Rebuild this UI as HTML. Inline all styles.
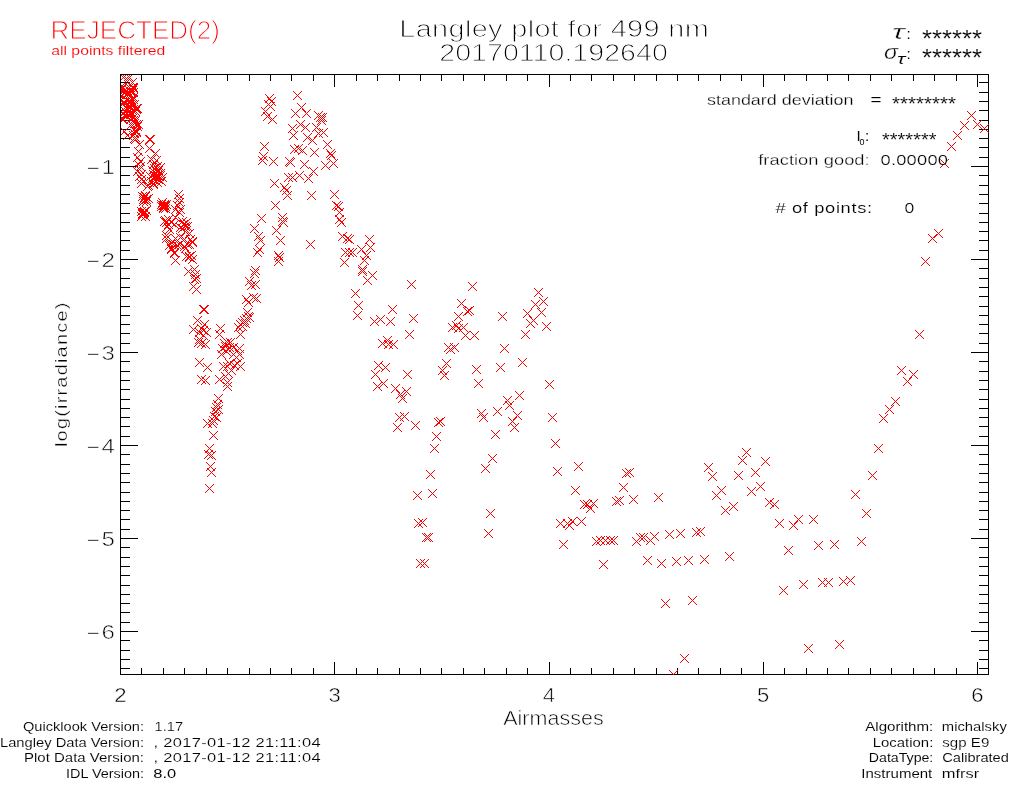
<!DOCTYPE html>
<html><head><meta charset="utf-8"><title>Langley plot for 499 nm</title>
<style>
html,body{margin:0;padding:0;background:#fff;}
body{width:1024px;height:786px;overflow:hidden;}
svg{display:block;}
text{font-family:"Liberation Sans",sans-serif;fill:#000;stroke:#fff;}
.r{fill:#f00;}
.ax{stroke:#000;stroke-width:1;fill:none;shape-rendering:crispEdges;}
.m{stroke:#f00;stroke-width:1;fill:none;shape-rendering:crispEdges;}
</style></head><body>
<svg width="1024" height="786" viewBox="0 0 1024 786">
<rect width="1024" height="786" fill="#fff"/>
<defs><clipPath id="c"><rect x="121" y="75" width="868" height="600"/></clipPath></defs>
<path class="ax" d="M120.5 74.5H988.5V674.5H120.5ZM120.5 674.5v-12.6M120.5 74.5v12M141.5 674.5v-6.6M141.5 74.5v6M163.5 674.5v-6.6M163.5 74.5v6M184.5 674.5v-6.6M184.5 74.5v6M206.5 674.5v-6.6M206.5 74.5v6M227.5 674.5v-6.6M227.5 74.5v6M249.5 674.5v-6.6M249.5 74.5v6M270.5 674.5v-6.6M270.5 74.5v6M291.5 674.5v-6.6M291.5 74.5v6M313.5 674.5v-6.6M313.5 74.5v6M334.5 674.5v-12.6M334.5 74.5v12M356.5 674.5v-6.6M356.5 74.5v6M377.5 674.5v-6.6M377.5 74.5v6M399.5 674.5v-6.6M399.5 74.5v6M420.5 674.5v-6.6M420.5 74.5v6M441.5 674.5v-6.6M441.5 74.5v6M463.5 674.5v-6.6M463.5 74.5v6M484.5 674.5v-6.6M484.5 74.5v6M506.5 674.5v-6.6M506.5 74.5v6M527.5 674.5v-6.6M527.5 74.5v6M549.5 674.5v-12.6M549.5 74.5v12M570.5 674.5v-6.6M570.5 74.5v6M591.5 674.5v-6.6M591.5 74.5v6M613.5 674.5v-6.6M613.5 74.5v6M634.5 674.5v-6.6M634.5 74.5v6M656.5 674.5v-6.6M656.5 74.5v6M677.5 674.5v-6.6M677.5 74.5v6M698.5 674.5v-6.6M698.5 74.5v6M720.5 674.5v-6.6M720.5 74.5v6M741.5 674.5v-6.6M741.5 74.5v6M763.5 674.5v-12.6M763.5 74.5v12M784.5 674.5v-6.6M784.5 74.5v6M806.5 674.5v-6.6M806.5 74.5v6M827.5 674.5v-6.6M827.5 74.5v6M848.5 674.5v-6.6M848.5 74.5v6M870.5 674.5v-6.6M870.5 74.5v6M891.5 674.5v-6.6M891.5 74.5v6M913.5 674.5v-6.6M913.5 74.5v6M934.5 674.5v-6.6M934.5 74.5v6M956.5 674.5v-6.6M956.5 74.5v6M977.5 674.5v-12.6M977.5 74.5v12M120.5 82.5h9M988.5 82.5h-9.6M120.5 92.5h9M988.5 92.5h-9.6M120.5 101.5h9M988.5 101.5h-9.6M120.5 110.5h9M988.5 110.5h-9.6M120.5 120.5h9M988.5 120.5h-9.6M120.5 129.5h9M988.5 129.5h-9.6M120.5 138.5h9M988.5 138.5h-9.6M120.5 147.5h9M988.5 147.5h-9.6M120.5 157.5h9M988.5 157.5h-9.6M120.5 166.5h17M988.5 166.5h-17.6M120.5 175.5h9M988.5 175.5h-9.6M120.5 185.5h9M988.5 185.5h-9.6M120.5 194.5h9M988.5 194.5h-9.6M120.5 203.5h9M988.5 203.5h-9.6M120.5 213.5h9M988.5 213.5h-9.6M120.5 222.5h9M988.5 222.5h-9.6M120.5 231.5h9M988.5 231.5h-9.6M120.5 240.5h9M988.5 240.5h-9.6M120.5 250.5h9M988.5 250.5h-9.6M120.5 259.5h17M988.5 259.5h-17.6M120.5 268.5h9M988.5 268.5h-9.6M120.5 278.5h9M988.5 278.5h-9.6M120.5 287.5h9M988.5 287.5h-9.6M120.5 296.5h9M988.5 296.5h-9.6M120.5 306.5h9M988.5 306.5h-9.6M120.5 315.5h9M988.5 315.5h-9.6M120.5 324.5h9M988.5 324.5h-9.6M120.5 333.5h9M988.5 333.5h-9.6M120.5 343.5h9M988.5 343.5h-9.6M120.5 352.5h17M988.5 352.5h-17.6M120.5 361.5h9M988.5 361.5h-9.6M120.5 371.5h9M988.5 371.5h-9.6M120.5 380.5h9M988.5 380.5h-9.6M120.5 389.5h9M988.5 389.5h-9.6M120.5 399.5h9M988.5 399.5h-9.6M120.5 408.5h9M988.5 408.5h-9.6M120.5 417.5h9M988.5 417.5h-9.6M120.5 426.5h9M988.5 426.5h-9.6M120.5 436.5h9M988.5 436.5h-9.6M120.5 445.5h17M988.5 445.5h-17.6M120.5 454.5h9M988.5 454.5h-9.6M120.5 464.5h9M988.5 464.5h-9.6M120.5 473.5h9M988.5 473.5h-9.6M120.5 482.5h9M988.5 482.5h-9.6M120.5 492.5h9M988.5 492.5h-9.6M120.5 501.5h9M988.5 501.5h-9.6M120.5 510.5h9M988.5 510.5h-9.6M120.5 519.5h9M988.5 519.5h-9.6M120.5 529.5h9M988.5 529.5h-9.6M120.5 538.5h17M988.5 538.5h-17.6M120.5 547.5h9M988.5 547.5h-9.6M120.5 557.5h9M988.5 557.5h-9.6M120.5 566.5h9M988.5 566.5h-9.6M120.5 575.5h9M988.5 575.5h-9.6M120.5 585.5h9M988.5 585.5h-9.6M120.5 594.5h9M988.5 594.5h-9.6M120.5 603.5h9M988.5 603.5h-9.6M120.5 612.5h9M988.5 612.5h-9.6M120.5 622.5h9M988.5 622.5h-9.6M120.5 631.5h17M988.5 631.5h-17.6M120.5 640.5h9M988.5 640.5h-9.6M120.5 650.5h9M988.5 650.5h-9.6M120.5 659.5h9M988.5 659.5h-9.6M120.5 668.5h9M988.5 668.5h-9.6"/>
<g clip-path="url(#c)"><path class="m" d="M145 135l9 9M145 144l9 -9M146 135l9 9M146 144l9 -9M145 144l9 9M145 153l9 -9M131 135l9 9M131 144l9 -9M135 140l9 9M135 149l9 -9M134 147l9 9M134 156l9 -9M136 157l9 9M136 166l9 -9M136 162l9 9M136 171l9 -9M135 165l9 9M135 174l9 -9M137 170l9 9M137 179l9 -9M137 175l9 9M137 184l9 -9M151 149l9 9M151 158l9 -9M147 155l9 9M147 164l9 -9M152 156l9 9M152 165l9 -9M153 162l9 9M153 171l9 -9M156 163l9 9M156 172l9 -9M151 169l9 9M151 178l9 -9M153 171l9 9M153 180l9 -9M156 169l9 9M156 178l9 -9M150 173l9 9M150 182l9 -9M147 177l9 9M147 186l9 -9M143 182l9 9M143 191l9 -9M153 178l9 9M153 187l9 -9M158 173l9 9M158 182l9 -9M149 160l9 9M149 169l9 -9M154 166l9 9M154 175l9 -9M152 174l9 9M152 183l9 -9M148 166l9 9M148 175l9 -9M155 172l9 9M155 181l9 -9M150 164l9 9M150 173l9 -9M146 172l9 9M146 181l9 -9M157 177l9 9M157 186l9 -9M149 180l9 9M149 189l9 -9M133 153l9 9M133 162l9 -9M134 160l9 9M134 169l9 -9M133 167l9 9M133 176l9 -9M135 172l9 9M135 181l9 -9M137 179l9 9M137 188l9 -9M144 181l9 9M144 190l9 -9M149 179l9 9M149 188l9 -9M153 178l9 9M153 187l9 -9M138 192l9 9M138 201l9 -9M141 192l9 9M141 201l9 -9M144 194l9 9M144 203l9 -9M139 197l9 9M139 206l9 -9M142 197l9 9M142 206l9 -9M137 207l9 9M137 216l9 -9M140 208l9 9M140 217l9 -9M139 210l9 9M139 219l9 -9M142 206l9 9M142 215l9 -9M137 212l9 9M137 221l9 -9M141 212l9 9M141 221l9 -9M139 208l9 9M139 217l9 -9M138 210l9 9M138 219l9 -9M158 198l9 9M158 207l9 -9M160 200l9 9M160 209l9 -9M157 202l9 9M157 211l9 -9M161 202l9 9M161 211l9 -9M159 204l9 9M159 213l9 -9M157 200l9 9M157 209l9 -9M159 201l9 9M159 210l9 -9M174 190l9 9M174 199l9 -9M175 194l9 9M175 203l9 -9M175 198l9 9M175 207l9 -9M171 205l9 9M171 214l9 -9M176 205l9 9M176 214l9 -9M173 201l9 9M173 210l9 -9M175 208l9 9M175 217l9 -9M160 217l9 9M160 226l9 -9M164 215l9 9M164 224l9 -9M167 218l9 9M167 227l9 -9M163 222l9 9M163 231l9 -9M165 225l9 9M165 234l9 -9M171 213l9 9M171 222l9 -9M170 220l9 9M170 229l9 -9M178 217l9 9M178 226l9 -9M180 220l9 9M180 229l9 -9M176 223l9 9M176 232l9 -9M183 222l9 9M183 231l9 -9M181 227l9 9M181 236l9 -9M185 229l9 9M185 238l9 -9M162 231l9 9M162 240l9 -9M162 234l9 9M162 243l9 -9M168 237l9 9M168 246l9 -9M166 240l9 9M166 249l9 -9M171 234l9 9M171 243l9 -9M176 233l9 9M176 242l9 -9M180 235l9 9M180 244l9 -9M186 235l9 9M186 244l9 -9M188 237l9 9M188 246l9 -9M183 240l9 9M183 249l9 -9M173 241l9 9M173 250l9 -9M167 245l9 9M167 254l9 -9M170 249l9 9M170 258l9 -9M185 252l9 9M185 261l9 -9M181 244l9 9M181 253l9 -9M171 256l9 9M171 265l9 -9M170 248l9 9M170 257l9 -9M167 244l9 9M167 253l9 -9M165 241l9 9M165 250l9 -9M169 240l9 9M169 249l9 -9M175 240l9 9M175 249l9 -9M180 242l9 9M180 251l9 -9M185 240l9 9M185 249l9 -9M188 238l9 9M188 247l9 -9M182 252l9 9M182 261l9 -9M185 253l9 9M185 262l9 -9M188 255l9 9M188 264l9 -9M187 251l9 9M187 260l9 -9M184 267l9 9M184 276l9 -9M190 265l9 9M190 274l9 -9M191 270l9 9M191 279l9 -9M192 274l9 9M192 283l9 -9M190 275l9 9M190 284l9 -9M189 282l9 9M189 291l9 -9M192 285l9 9M192 294l9 -9M199 305l9 9M199 314l9 -9M200 305l9 9M200 314l9 -9M193 316l9 9M193 325l9 -9M189 325l9 9M189 334l9 -9M200 320l9 9M200 329l9 -9M197 324l9 9M197 333l9 -9M199 326l9 9M199 335l9 -9M195 328l9 9M195 337l9 -9M202 328l9 9M202 337l9 -9M199 331l9 9M199 340l9 -9M194 338l9 9M194 347l9 -9M197 339l9 9M197 348l9 -9M201 340l9 9M201 349l9 -9M195 335l9 9M195 344l9 -9M195 358l9 9M195 367l9 -9M203 363l9 9M203 372l9 -9M216 324l9 9M216 333l9 -9M215 330l9 9M215 339l9 -9M220 339l9 9M220 348l9 -9M223 338l9 9M223 347l9 -9M226 338l9 9M226 347l9 -9M221 342l9 9M221 351l9 -9M225 343l9 9M225 352l9 -9M229 343l9 9M229 352l9 -9M218 344l9 9M218 353l9 -9M217 350l9 9M217 359l9 -9M222 347l9 9M222 356l9 -9M229 350l9 9M229 359l9 -9M233 346l9 9M233 355l9 -9M235 344l9 9M235 353l9 -9M235 350l9 9M235 359l9 -9M232 353l9 9M232 362l9 -9M219 362l9 9M219 371l9 -9M223 362l9 9M223 371l9 -9M227 366l9 9M227 375l9 -9M230 361l9 9M230 370l9 -9M233 359l9 9M233 368l9 -9M236 362l9 9M236 371l9 -9M225 359l9 9M225 368l9 -9M224 369l9 9M224 378l9 -9M234 323l9 9M234 332l9 -9M236 320l9 9M236 329l9 -9M238 318l9 9M238 327l9 -9M240 316l9 9M240 325l9 -9M242 314l9 9M242 323l9 -9M244 312l9 9M244 321l9 -9M236 330l9 9M236 339l9 -9M243 308l9 9M243 317l9 -9M245 313l9 9M245 322l9 -9M238 322l9 9M238 331l9 -9M241 319l9 9M241 328l9 -9M197 375l9 9M197 384l9 -9M201 376l9 9M201 385l9 -9M215 375l9 9M215 384l9 -9M221 372l9 9M221 381l9 -9M223 378l9 9M223 387l9 -9M223 382l9 9M223 391l9 -9M214 394l9 9M214 403l9 -9M213 400l9 9M213 409l9 -9M212 403l9 9M212 412l9 -9M214 405l9 9M214 414l9 -9M211 407l9 9M211 416l9 -9M210 412l9 9M210 421l9 -9M212 413l9 9M212 422l9 -9M209 416l9 9M209 425l9 -9M203 419l9 9M203 428l9 -9M208 419l9 9M208 428l9 -9M209 431l9 9M209 440l9 -9M205 444l9 9M205 453l9 -9M204 450l9 9M204 459l9 -9M207 451l9 9M207 460l9 -9M206 462l9 9M206 471l9 -9M207 468l9 9M207 477l9 -9M205 484l9 9M205 493l9 -9M265 94l9 9M265 103l9 -9M267 97l9 9M267 106l9 -9M264 100l9 9M264 109l9 -9M266 102l9 9M266 111l9 -9M261 107l9 9M261 116l9 -9M263 112l9 9M263 121l9 -9M268 115l9 9M268 124l9 -9M293 91l9 9M293 100l9 -9M297 103l9 9M297 112l9 -9M291 109l9 9M291 118l9 -9M302 109l9 9M302 118l9 -9M314 111l9 9M314 120l9 -9M316 113l9 9M316 122l9 -9M318 113l9 9M318 122l9 -9M317 116l9 9M317 125l9 -9M296 120l9 9M296 129l9 -9M288 124l9 9M288 133l9 -9M301 123l9 9M301 132l9 -9M312 123l9 9M312 132l9 -9M319 128l9 9M319 137l9 -9M314 129l9 9M314 138l9 -9M289 131l9 9M289 140l9 -9M303 133l9 9M303 142l9 -9M308 136l9 9M308 145l9 -9M323 140l9 9M323 149l9 -9M290 145l9 9M290 154l9 -9M294 144l9 9M294 153l9 -9M298 146l9 9M298 155l9 -9M310 148l9 9M310 157l9 -9M326 149l9 9M326 158l9 -9M327 151l9 9M327 160l9 -9M260 142l9 9M260 151l9 -9M259 152l9 9M259 161l9 -9M258 156l9 9M258 165l9 -9M269 157l9 9M269 166l9 -9M285 157l9 9M285 166l9 -9M286 158l9 9M286 167l9 -9M300 160l9 9M300 169l9 -9M321 161l9 9M321 170l9 -9M329 159l9 9M329 168l9 -9M309 167l9 9M309 176l9 -9M304 174l9 9M304 183l9 -9M295 171l9 9M295 180l9 -9M284 173l9 9M284 182l9 -9M288 173l9 9M288 182l9 -9M270 179l9 9M270 188l9 -9M280 183l9 9M280 192l9 -9M282 186l9 9M282 195l9 -9M283 191l9 9M283 200l9 -9M307 191l9 9M307 200l9 -9M330 190l9 9M330 199l9 -9M271 201l9 9M271 210l9 -9M332 201l9 9M332 210l9 -9M334 202l9 9M334 211l9 -9M335 208l9 9M335 217l9 -9M335 215l9 9M335 224l9 -9M337 218l9 9M337 227l9 -9M257 214l9 9M257 223l9 -9M278 213l9 9M278 222l9 -9M278 217l9 9M278 226l9 -9M279 218l9 9M279 227l9 -9M250 224l9 9M250 233l9 -9M272 226l9 9M272 235l9 -9M254 232l9 9M254 241l9 -9M256 236l9 9M256 245l9 -9M255 245l9 9M255 254l9 -9M253 248l9 9M253 257l9 -9M276 236l9 9M276 245l9 -9M306 240l9 9M306 249l9 -9M274 251l9 9M274 260l9 -9M275 253l9 9M275 262l9 -9M274 257l9 9M274 266l9 -9M251 266l9 9M251 275l9 -9M250 269l9 9M250 278l9 -9M245 277l9 9M245 286l9 -9M247 281l9 9M247 290l9 -9M251 280l9 9M251 289l9 -9M242 295l9 9M242 304l9 -9M244 298l9 9M244 307l9 -9M249 293l9 9M249 302l9 -9M252 294l9 9M252 303l9 -9M243 308l9 9M243 317l9 -9M338 232l9 9M338 241l9 -9M343 234l9 9M343 243l9 -9M345 235l9 9M345 244l9 -9M365 235l9 9M365 244l9 -9M366 243l9 9M366 252l9 -9M357 245l9 9M357 254l9 -9M341 248l9 9M341 257l9 -9M345 248l9 9M345 257l9 -9M348 248l9 9M348 257l9 -9M362 251l9 9M362 260l9 -9M340 258l9 9M340 267l9 -9M360 256l9 9M360 265l9 -9M358 265l9 9M358 274l9 -9M358 267l9 9M358 276l9 -9M368 271l9 9M368 280l9 -9M363 276l9 9M363 285l9 -9M407 280l9 9M407 289l9 -9M351 289l9 9M351 298l9 -9M354 301l9 9M354 310l9 -9M353 311l9 9M353 320l9 -9M388 305l9 9M388 314l9 -9M409 314l9 9M409 323l9 -9M370 317l9 9M370 326l9 -9M376 315l9 9M376 324l9 -9M386 317l9 9M386 326l9 -9M405 330l9 9M405 339l9 -9M383 336l9 9M383 345l9 -9M378 339l9 9M378 348l9 -9M384 340l9 9M384 349l9 -9M389 340l9 9M389 349l9 -9M374 361l9 9M374 370l9 -9M381 363l9 9M381 372l9 -9M371 370l9 9M371 379l9 -9M379 379l9 9M379 388l9 -9M373 382l9 9M373 391l9 -9M403 370l9 9M403 379l9 -9M391 384l9 9M391 393l9 -9M396 390l9 9M396 399l9 -9M402 387l9 9M402 396l9 -9M398 394l9 9M398 403l9 -9M454 312l9 9M454 321l9 -9M448 323l9 9M448 332l9 -9M452 321l9 9M452 330l9 -9M454 324l9 9M454 333l9 -9M444 343l9 9M444 352l9 -9M446 345l9 9M446 354l9 -9M450 343l9 9M450 352l9 -9M442 359l9 9M442 368l9 -9M438 366l9 9M438 375l9 -9M440 371l9 9M440 380l9 -9M395 413l9 9M395 422l9 -9M400 412l9 9M400 421l9 -9M393 423l9 9M393 432l9 -9M411 421l9 9M411 430l9 -9M434 418l9 9M434 427l9 -9M436 417l9 9M436 426l9 -9M432 432l9 9M432 441l9 -9M430 444l9 9M430 453l9 -9M426 470l9 9M426 479l9 -9M413 491l9 9M413 500l9 -9M428 489l9 9M428 498l9 -9M414 519l9 9M414 528l9 -9M418 518l9 9M418 527l9 -9M422 533l9 9M422 542l9 -9M424 533l9 9M424 542l9 -9M481 464l9 9M481 473l9 -9M486 509l9 9M486 518l9 -9M484 529l9 9M484 538l9 -9M468 282l9 9M468 291l9 -9M457 299l9 9M457 308l9 -9M463 307l9 9M463 316l9 -9M465 306l9 9M465 315l9 -9M459 323l9 9M459 332l9 -9M461 331l9 9M461 340l9 -9M470 331l9 9M470 340l9 -9M498 312l9 9M498 321l9 -9M500 344l9 9M500 353l9 -9M472 365l9 9M472 374l9 -9M496 363l9 9M496 372l9 -9M518 358l9 9M518 367l9 -9M521 330l9 9M521 339l9 -9M542 322l9 9M542 331l9 -9M534 288l9 9M534 297l9 -9M539 297l9 9M539 306l9 -9M531 300l9 9M531 309l9 -9M523 309l9 9M523 318l9 -9M537 308l9 9M537 317l9 -9M526 319l9 9M526 328l9 -9M529 316l9 9M529 325l9 -9M474 379l9 9M474 388l9 -9M545 380l9 9M545 389l9 -9M515 391l9 9M515 400l9 -9M503 396l9 9M503 405l9 -9M505 401l9 9M505 410l9 -9M493 407l9 9M493 416l9 -9M477 409l9 9M477 418l9 -9M479 413l9 9M479 422l9 -9M513 411l9 9M513 420l9 -9M508 417l9 9M508 426l9 -9M510 423l9 9M510 432l9 -9M548 413l9 9M548 422l9 -9M491 430l9 9M491 439l9 -9M551 439l9 9M551 448l9 -9M488 454l9 9M488 463l9 -9M553 467l9 9M553 476l9 -9M574 462l9 9M574 471l9 -9M571 486l9 9M571 495l9 -9M580 500l9 9M580 509l9 -9M583 500l9 9M583 509l9 -9M586 504l9 9M586 513l9 -9M589 499l9 9M589 508l9 -9M556 519l9 9M556 528l9 -9M563 519l9 9M563 528l9 -9M565 521l9 9M565 530l9 -9M568 517l9 9M568 526l9 -9M577 517l9 9M577 526l9 -9M559 540l9 9M559 549l9 -9M622 469l9 9M622 478l9 -9M625 468l9 9M625 477l9 -9M619 483l9 9M619 492l9 -9M612 497l9 9M612 506l9 -9M615 496l9 9M615 505l9 -9M629 495l9 9M629 504l9 -9M654 493l9 9M654 502l9 -9M704 463l9 9M704 472l9 -9M708 472l9 9M708 481l9 -9M712 491l9 9M712 500l9 -9M592 537l9 9M592 546l9 -9M596 536l9 9M596 545l9 -9M601 536l9 9M601 545l9 -9M606 536l9 9M606 545l9 -9M609 536l9 9M609 545l9 -9M632 537l9 9M632 546l9 -9M636 533l9 9M636 542l9 -9M639 533l9 9M639 542l9 -9M646 536l9 9M646 545l9 -9M650 532l9 9M650 541l9 -9M665 530l9 9M665 539l9 -9M676 529l9 9M676 538l9 -9M692 528l9 9M692 537l9 -9M696 527l9 9M696 536l9 -9M599 560l9 9M599 569l9 -9M643 556l9 9M643 565l9 -9M657 559l9 9M657 568l9 -9M672 557l9 9M672 566l9 -9M661 599l9 9M661 608l9 -9M684 556l9 9M684 565l9 -9M700 555l9 9M700 564l9 -9M725 552l9 9M725 561l9 -9M784 546l9 9M784 555l9 -9M779 586l9 9M779 595l9 -9M688 596l9 9M688 605l9 -9M680 654l9 9M680 663l9 -9M669 670l9 9M669 679l9 -9M717 486l9 9M717 495l9 -9M721 506l9 9M721 515l9 -9M729 502l9 9M729 511l9 -9M742 448l9 9M742 457l9 -9M738 456l9 9M738 465l9 -9M761 457l9 9M761 466l9 -9M734 471l9 9M734 480l9 -9M751 468l9 9M751 477l9 -9M756 482l9 9M756 491l9 -9M747 487l9 9M747 496l9 -9M765 498l9 9M765 507l9 -9M770 500l9 9M770 509l9 -9M775 519l9 9M775 528l9 -9M789 521l9 9M789 530l9 -9M794 515l9 9M794 524l9 -9M809 515l9 9M809 524l9 -9M814 541l9 9M814 550l9 -9M830 540l9 9M830 549l9 -9M857 537l9 9M857 546l9 -9M799 580l9 9M799 589l9 -9M818 578l9 9M818 587l9 -9M824 578l9 9M824 587l9 -9M839 577l9 9M839 586l9 -9M846 576l9 9M846 585l9 -9M804 644l9 9M804 653l9 -9M835 640l9 9M835 649l9 -9M862 509l9 9M862 518l9 -9M851 490l9 9M851 499l9 -9M868 471l9 9M868 480l9 -9M874 444l9 9M874 453l9 -9M915 330l9 9M915 339l9 -9M897 366l9 9M897 375l9 -9M909 370l9 9M909 379l9 -9M903 377l9 9M903 386l9 -9M891 397l9 9M891 406l9 -9M885 405l9 9M885 414l9 -9M879 414l9 9M879 423l9 -9M921 257l9 9M921 266l9 -9M928 234l9 9M928 243l9 -9M934 229l9 9M934 238l9 -9M967 111l9 9M967 120l9 -9M960 121l9 9M960 130l9 -9M973 120l9 9M973 129l9 -9M980 124l9 9M980 133l9 -9M953 131l9 9M953 140l9 -9M947 142l9 9M947 151l9 -9M940 159l9 9M940 168l9 -9M119 73l9 9M119 82l9 -9M120 72l9 9M120 81l9 -9M124 72l9 9M124 81l9 -9M125 73l9 9M125 82l9 -9M128 78l9 9M128 87l9 -9M127 88l9 9M127 97l9 -9M123 96l9 9M123 105l9 -9M120 98l9 9M120 107l9 -9M119 98l9 9M119 107l9 -9M114 90l9 9M114 99l9 -9M125 83l9 9M125 92l9 -9M116 96l9 9M116 105l9 -9M121 87l9 9M121 96l9 -9M115 90l9 9M115 99l9 -9M127 96l9 9M127 105l9 -9M115 97l9 9M115 106l9 -9M129 93l9 9M129 102l9 -9M125 86l9 9M125 95l9 -9M118 83l9 9M118 92l9 -9M117 85l9 9M117 94l9 -9M128 83l9 9M128 92l9 -9M124 88l9 9M124 97l9 -9M129 95l9 9M129 104l9 -9M119 87l9 9M119 96l9 -9M129 84l9 9M129 93l9 -9M116 90l9 9M116 99l9 -9M120 89l9 9M120 98l9 -9M117 85l9 9M117 94l9 -9M126 98l9 9M126 107l9 -9M124 89l9 9M124 98l9 -9M127 87l9 9M127 96l9 -9M125 92l9 9M125 101l9 -9M126 97l9 9M126 106l9 -9M129 93l9 9M129 102l9 -9M122 95l9 9M122 104l9 -9M116 83l9 9M116 92l9 -9M129 88l9 9M129 97l9 -9M129 83l9 9M129 92l9 -9M121 85l9 9M121 94l9 -9M126 110l9 9M126 119l9 -9M121 103l9 9M121 112l9 -9M127 105l9 9M127 114l9 -9M124 110l9 9M124 119l9 -9M122 109l9 9M122 118l9 -9M119 105l9 9M119 114l9 -9M129 105l9 9M129 114l9 -9M121 111l9 9M121 120l9 -9M127 101l9 9M127 110l9 -9M125 107l9 9M125 116l9 -9M132 105l9 9M132 114l9 -9M130 100l9 9M130 109l9 -9M126 115l9 9M126 124l9 -9M131 107l9 9M131 116l9 -9M121 107l9 9M121 116l9 -9M125 102l9 9M125 111l9 -9M129 113l9 9M129 122l9 -9M119 115l9 9M119 124l9 -9M118 109l9 9M118 118l9 -9M127 108l9 9M127 117l9 -9M125 101l9 9M125 110l9 -9M124 105l9 9M124 114l9 -9M127 110l9 9M127 119l9 -9M133 104l9 9M133 113l9 -9M118 115l9 9M118 124l9 -9M132 104l9 9M132 113l9 -9M131 116l9 9M131 125l9 -9M118 115l9 9M118 124l9 -9M133 122l9 9M133 131l9 -9M132 127l9 9M132 136l9 -9M131 127l9 9M131 136l9 -9M130 129l9 9M130 138l9 -9M129 131l9 9M129 140l9 -9M131 133l9 9M131 142l9 -9M132 120l9 9M132 129l9 -9M129 116l9 9M129 125l9 -9M134 120l9 9M134 129l9 -9M129 116l9 9M129 125l9 -9M131 126l9 9M131 135l9 -9M130 134l9 9M130 143l9 -9M132 128l9 9M132 137l9 -9M127 120l9 9M127 129l9 -9M130 119l9 9M130 128l9 -9M120 127l9 9M120 136l9 -9M123 131l9 9M123 140l9 -9M149 170l9 9M149 179l9 -9M152 172l9 9M152 181l9 -9M154 175l9 9M154 184l9 -9M150 176l9 9M150 185l9 -9M153 168l9 9M153 177l9 -9M148 174l9 9M148 183l9 -9M155 170l9 9M155 179l9 -9M151 166l9 9M151 175l9 -9M160 201l9 9M160 210l9 -9M162 200l9 9M162 209l9 -9M159 203l9 9M159 212l9 -9M161 204l9 9M161 213l9 -9M179 220l9 9M179 229l9 -9M181 222l9 9M181 231l9 -9M178 224l9 9M178 233l9 -9M182 218l9 9M182 227l9 -9M162 218l9 9M162 227l9 -9M164 220l9 9M164 229l9 -9M161 216l9 9M161 225l9 -9M140 193l9 9M140 202l9 -9M142 195l9 9M142 204l9 -9M139 195l9 9M139 204l9 -9M141 191l9 9M141 200l9 -9M139 209l9 9M139 218l9 -9M140 207l9 9M140 216l9 -9M138 209l9 9M138 218l9 -9M416 559l9 9M416 568l9 -9M420 559l9 9M420 568l9 -9"/></g>
<text transform="translate(399.30 37) scale(1.2200 1)" font-size="23.7" stroke-width="0.96" textLength="253.69" lengthAdjust="spacing">Langley plot for 499 nm</text>
<text transform="translate(439.30 60.6) scale(1.2073 1)" font-size="23.7" stroke-width="0.97" textLength="189.27" lengthAdjust="spacing">20170110.192640</text>
<text transform="translate(50.50 39) scale(1.0225 1)" font-size="25.5" stroke-width="1.03" class="r" textLength="165.77" lengthAdjust="spacing">REJECTED(2)</text>
<text transform="translate(51.20 54.5) scale(1.2134 1)" font-size="13" stroke-width="0.12" class="r" textLength="93.95" lengthAdjust="spacing">all points filtered</text>
<text transform="translate(85 174) scale(1.19 1)" font-size="20.3" stroke-width="0.6"><tspan dy="-0.4" textLength="13.7" lengthAdjust="spacingAndGlyphs">-</tspan><tspan dy="0.4" dx="0.2">1</tspan></text>
<text transform="translate(85 267) scale(1.19 1)" font-size="20.3" stroke-width="0.6"><tspan dy="-0.4" textLength="13.7" lengthAdjust="spacingAndGlyphs">-</tspan><tspan dy="0.4" dx="0.2">2</tspan></text>
<text transform="translate(85 360) scale(1.19 1)" font-size="20.3" stroke-width="0.6"><tspan dy="-0.4" textLength="13.7" lengthAdjust="spacingAndGlyphs">-</tspan><tspan dy="0.4" dx="0.2">3</tspan></text>
<text transform="translate(85 453) scale(1.19 1)" font-size="20.3" stroke-width="0.6"><tspan dy="-0.4" textLength="13.7" lengthAdjust="spacingAndGlyphs">-</tspan><tspan dy="0.4" dx="0.2">4</tspan></text>
<text transform="translate(85 546) scale(1.19 1)" font-size="20.3" stroke-width="0.6"><tspan dy="-0.4" textLength="13.7" lengthAdjust="spacingAndGlyphs">-</tspan><tspan dy="0.4" dx="0.2">5</tspan></text>
<text transform="translate(85 639) scale(1.19 1)" font-size="20.3" stroke-width="0.6"><tspan dy="-0.4" textLength="13.7" lengthAdjust="spacingAndGlyphs">-</tspan><tspan dy="0.4" dx="0.2">6</tspan></text>
<text transform="translate(114.35 702.3) scale(1.0784 1)" font-size="20.5" stroke-width="0.40">2</text>
<text transform="translate(328.60 702.3) scale(1.0784 1)" font-size="20.5" stroke-width="0.47">3</text>
<text transform="translate(542.85 702.3) scale(1.0784 1)" font-size="20.5" stroke-width="0.62">4</text>
<text transform="translate(757.10 702.3) scale(1.0784 1)" font-size="20.5" stroke-width="0.51">5</text>
<text transform="translate(971.35 702.3) scale(1.0784 1)" font-size="20.5" stroke-width="0.43">6</text>
<text transform="translate(503.20 724.8) scale(1.1040 1)" font-size="19.5" stroke-width="0.58" textLength="91.03" lengthAdjust="spacing">Airmasses</text>
<text transform="translate(67.2 447) rotate(-90) scale(1.2200 1)" font-size="16.5" stroke-width="0.37" textLength="118.44" lengthAdjust="spacing">log(irradiance)</text>
<text transform="translate(892.00 39) scale(1.5934 1)" font-size="21" stroke-width="0.40" font-family="Liberation Serif,serif" font-style="italic">τ</text>
<text transform="translate(906.50 39) scale(1.0000 1)" font-size="15" stroke-width="0.00">:</text>
<text transform="translate(884.00 58.75) scale(1.1101 1)" font-size="21" stroke-width="0.40" font-family="Liberation Serif,serif" font-style="italic">σ</text>
<text transform="translate(897.00 64) scale(1.5950 1)" font-size="14" stroke-width="0.10" font-family="Liberation Serif,serif" font-style="italic">τ</text>
<text transform="translate(906.50 58.75) scale(1.0000 1)" font-size="15" stroke-width="0.00">:</text>
<text transform="translate(922.00 47) scale(1.0705 1)" font-size="24" stroke-width="0.15" textLength="56.05" lengthAdjust="spacing">******</text>
<text transform="translate(922.00 66) scale(1.0705 1)" font-size="24" stroke-width="0.15" textLength="56.05" lengthAdjust="spacing">******</text>
<text transform="translate(707.00 105) scale(1.1950 1)" font-size="15" stroke-width="0.26" textLength="122.59" lengthAdjust="spacing">standard deviation</text>
<text transform="translate(870.60 105) scale(1.2549 1)" font-size="15" stroke-width="0.10">=</text>
<text transform="translate(892.00 110) scale(1.0819 1)" font-size="19" stroke-width="0.10" textLength="59.16" lengthAdjust="spacing">********</text>
<text transform="translate(856.50 141) scale(1.0000 1)" font-size="15" stroke-width="0.00">I</text>
<text transform="translate(859.50 145) scale(1.0000 1)" font-size="9" stroke-width="0.00">0</text>
<text transform="translate(865.00 141) scale(1.0000 1)" font-size="15" stroke-width="0.00">:</text>
<text transform="translate(882.00 146) scale(1.0528 1)" font-size="19" stroke-width="0.10" textLength="51.77" lengthAdjust="spacing">*******</text>
<text transform="translate(758.20 165) scale(1.2200 1)" font-size="15" stroke-width="0.30" textLength="91.39" lengthAdjust="spacing">fraction good:</text>
<text transform="translate(880.50 165) scale(1.2200 1)" font-size="15" stroke-width="0.25" textLength="55.33" lengthAdjust="spacing">0.00000</text>
<text transform="translate(775.50 212.8) scale(1.2200 1)" font-size="15" stroke-width="0.15" textLength="79.10" lengthAdjust="spacing"># of points:</text>
<text transform="translate(904.60 212.8) scale(1.1745 1)" font-size="15" stroke-width="0.22">0</text>
<text transform="translate(23.00 730.7) scale(1.0822 1)" font-size="13.5" stroke-width="0.11" textLength="111.81" lengthAdjust="spacing">Quicklook Version:</text>
<text transform="translate(0.00 747) scale(1.0901 1)" font-size="13.5" stroke-width="0.12" textLength="132.09" lengthAdjust="spacing">Langley Data Version:</text>
<text transform="translate(24.00 762) scale(1.1105 1)" font-size="13.5" stroke-width="0.10" textLength="108.06" lengthAdjust="spacing">Plot Data Version:</text>
<text transform="translate(66.00 777.5) scale(1.0678 1)" font-size="13.5" stroke-width="0.09" textLength="73.05" lengthAdjust="spacing">IDL Version:</text>
<text transform="translate(154.60 730.7) scale(1.0806 1)" font-size="13.5" stroke-width="0.21" textLength="26.28" lengthAdjust="spacing">1.17</text>
<text transform="translate(153.60 747) scale(1.2200 1)" font-size="13.5" stroke-width="0.15" textLength="136.89" lengthAdjust="spacing">, 2017-01-12 21:11:04</text>
<text transform="translate(153.60 762) scale(1.2200 1)" font-size="13.5" stroke-width="0.15" textLength="136.89" lengthAdjust="spacing">, 2017-01-12 21:11:04</text>
<text transform="translate(153.20 777.5) scale(1.2200 1)" font-size="13.5" stroke-width="0.02" textLength="18.85" lengthAdjust="spacing">8.0</text>
<text transform="translate(865.30 731) scale(1.1188 1)" font-size="13.5" stroke-width="0.08" textLength="60.78" lengthAdjust="spacing">Algorithm:</text>
<text transform="translate(872.80 747) scale(1.1041 1)" font-size="13.5" stroke-width="0.10" textLength="54.80" lengthAdjust="spacing">Location:</text>
<text transform="translate(868.80 762) scale(1.0480 1)" font-size="13.5" stroke-width="0.07" textLength="61.55" lengthAdjust="spacing">DataType:</text>
<text transform="translate(861.30 777.6) scale(1.1132 1)" font-size="13.5" stroke-width="0.08" textLength="63.78" lengthAdjust="spacing">Instrument</text>
<text transform="translate(941.80 731) scale(1.0968 1)" font-size="13.5" stroke-width="0.13" textLength="59.27" lengthAdjust="spacing">michalsky</text>
<text transform="translate(942.30 747) scale(1.1182 1)" font-size="13.5" stroke-width="0.16" textLength="42.03" lengthAdjust="spacing">sgp E9</text>
<text transform="translate(942.30 762) scale(1.0805 1)" font-size="13.5" stroke-width="0.09" textLength="61.55" lengthAdjust="spacing">Calibrated</text>
<text transform="translate(941.80 777.6) scale(1.2195 1)" font-size="13.5" stroke-width="0.11" textLength="30.75" lengthAdjust="spacing">mfrsr</text>
</svg>
</body></html>
